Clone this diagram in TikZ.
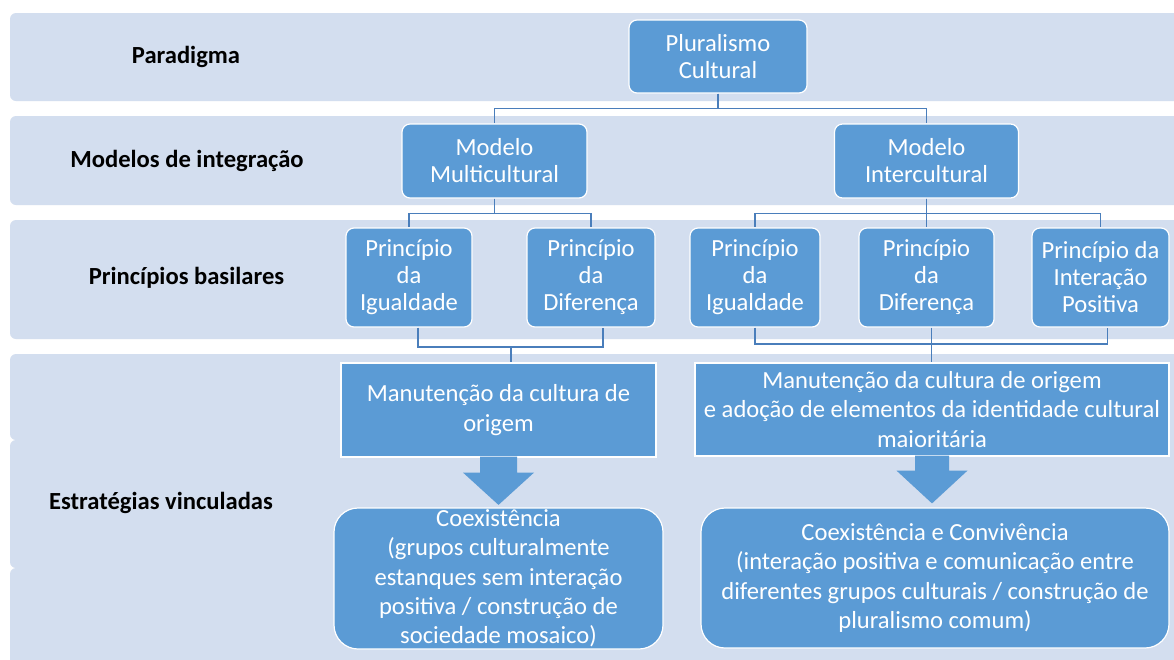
\documentclass[tikz,border=0pt]{standalone}
\usepackage{fontspec}
\setmainfont{Carlito}
\usetikzlibrary{calc}
\definecolor{bandblue}{RGB}{211,222,239}
\definecolor{boxblue}{RGB}{91,155,213}
\definecolor{connblue}{RGB}{74,126,187}
\tikzset{
  band/.style={fill=bandblue, draw=none, rounded corners=6pt},
  lbl/.style={font=\fontsize{24.6}{27}\selectfont\bfseries, text=black, inner sep=0pt},
  box/.style={rectangle, rounded corners=8pt, fill=boxblue, draw=white, line width=1.2pt,
    text=white, align=center, inner sep=0pt, font=\fontsize{24.6}{27}\selectfont},
  flatbox/.style={box, rounded corners=0pt, font=\fontsize{24.6}{29.3}\selectfont},
  roundbox/.style={box, rounded corners=24pt, font=\fontsize{24.6}{29.3}\selectfont},
  conn/.style={draw=connblue, line width=1.3pt},
  blockarrow/.style={fill=boxblue, draw=none}
}
\begin{document}
\begin{tikzpicture}[x=1pt,y=-1pt]
\useasboundingbox (0,0) rectangle (1174,659);
\clip (0,0) rectangle (1174,659);
\fill[white] (0,0) rectangle (1174,659);
% bands
\path[band] (10,13) rectangle (1190,101);
\path[band] (10,116) rectangle (1190,205);
\path[band] (10,220) rectangle (1190,339);
\path[band] (10,354) rectangle (1190,440);
\path[band] (10,440) rectangle (1190,568);
\path[band] (10,568) rectangle (1190,670);
% labels
\node[lbl] (lp) at (186,57) {Paradigma};
\node[lbl] (lm) at (187,161) {Modelos de integração};
\node[lbl] (lpb) at (186.5,278) {Princípios basilares};
\node[lbl] (le) at (161,503) {Estratégias vinculadas};
% boxes
\node[box, minimum width=178pt, minimum height=73pt] (plur) at (718,56.5) {Pluralismo\\Cultural};
\node[box, minimum width=185pt, minimum height=74pt] (mm) at (494.5,161) {Modelo\\Multicultural};
\node[box, minimum width=184pt, minimum height=74pt] (mi) at (926.5,161) {Modelo\\Intercultural};
\node[box, minimum width=126pt, minimum height=99pt] (piMC) at (409,277.5) {Princípio\\da\\Igualdade};
\node[box, minimum width=128pt, minimum height=99pt] (pdMC) at (591,277.5) {Princípio\\da\\Diferença};
\node[box, minimum width=130pt, minimum height=99pt] (piIC) at (755,277.5) {Princípio\\da\\Igualdade};
\node[box, minimum width=135pt, minimum height=99pt] (pdIC) at (926.5,277.5) {Princípio\\da\\Diferença};
\node[box, minimum width=137pt, minimum height=99pt] (ipIC) at (1100.5,277.5) {Princípio da\\Interação\\Positiva};
\node[flatbox, minimum width=315pt, minimum height=94pt] (manMC) at (498.5,410) {Manutenção da cultura de\\origem};
\node[flatbox, minimum width=474pt, minimum height=93pt] (manIC) at (932,409.5) {Manutenção da cultura de origem\\e adoção de elementos da identidade cultural\\maioritária};
\node[roundbox, minimum width=329pt, minimum height=141pt] (coexMC) at (498.5,578.5) {Coexistência\\(grupos culturalmente\\estanques sem interação\\positiva / construção de\\sociedade mosaico)};
\node[roundbox, minimum width=468pt, minimum height=140pt] (coexIC) at (935,578) {Coexistência e Convivência\\(interação positiva e comunicação entre\\diferentes grupos culturais / construção de\\pluralismo comum)};
% connectors
\draw[conn] (plur.south) -- ++(0,15) -| (mm.north);
\draw[conn] (plur.south) -- ++(0,15) -| (mi.north);
\draw[conn] (mm.south) -- ++(0,15) -| (piMC.north);
\draw[conn] (mm.south) -- ++(0,15) -| (pdMC.north);
\draw[conn] (mi.south) -- ++(0,15) -| (piIC.north);
\draw[conn] (mi.south) -- (pdIC.north);
\draw[conn] (mi.south) -- ++(0,15) -| (ipIC.north);
% lower connectors
\coordinate (jMC) at (511,347);
\draw[conn] ($(piMC.south)+(9,0)$) |- (jMC) -| ($(pdMC.south)+(12,0)$);
\draw[conn] (jMC) -- (jMC |- manMC.north);
\coordinate (jIC) at (931.5,344);
\draw[conn] (piIC.south) |- (jIC) -| ($(ipIC.south)+(7,0)$);
\draw[conn] (jIC |- pdIC.south) -- (jIC |- manIC.north);
% block arrows
\fill[blockarrow] ($(manMC.south)+(-18.5,-1)$) -- ($(manMC.south)+(-18.5,15)$) -- ($(manMC.south)+(-35.5,15)$)
  -- ($(coexMC.north)+(0,-2.5)$) -- ($(manMC.south)+(35.5,15)$) -- ($(manMC.south)+(18.5,15)$) -- ($(manMC.south)+(18.5,-1)$) -- cycle;
\fill[blockarrow] ($(manIC.south)+(-17,-1)$) -- ($(manIC.south)+(-17,14)$) -- ($(manIC.south)+(-35.5,14)$)
  -- ($(manIC.south |- coexIC.north)+(0,-4)$) -- ($(manIC.south)+(35.5,14)$) -- ($(manIC.south)+(17,14)$) -- ($(manIC.south)+(17,-1)$) -- cycle;
\end{tikzpicture}
\end{document}
